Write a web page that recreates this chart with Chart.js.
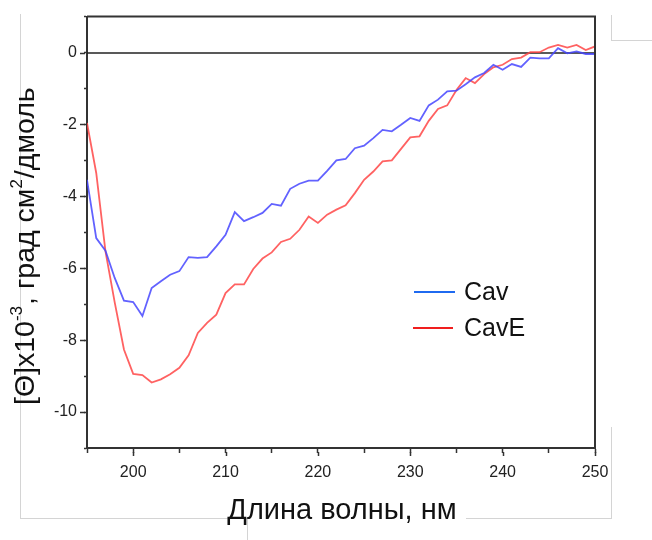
<!DOCTYPE html>
<html>
<head>
<meta charset="utf-8">
<script src="https://cdn.jsdelivr.net/npm/chart.js@4.4.1/dist/chart.umd.min.js"></script>
<style>
  html, body { margin: 0; padding: 0; background: #fff; }
  #wrap { position: relative; width: 652px; height: 540px; }
</style>
</head>
<body>
<div id="wrap"><canvas id="cd" width="652" height="540"></canvas></div>
<script>
// ── DATA ──────────────────────────────────────────────────────────────────────
const wavelengths = [
  195, 196, 197, 198, 199, 200, 201, 202, 203, 204,
  205, 206, 207, 208, 209, 210, 211, 212, 213, 214,
  215, 216, 217, 218, 219, 220, 221, 222, 223, 224,
  225, 226, 227, 228, 229, 230, 231, 232, 233, 234,
  235, 236, 237, 238, 239, 240, 241, 242, 243, 244,
  245, 246, 247, 248, 249, 250
];
const cav = [
  -3.54, -5.16, -5.51, -6.27, -6.90, -6.94, -7.33, -6.55, -6.36, -6.18,
  -6.08, -5.69, -5.71, -5.69, -5.39, -5.07, -4.44, -4.69, -4.58, -4.46,
  -4.21, -4.26, -3.79, -3.65, -3.56, -3.56, -3.29, -3.00, -2.96, -2.66,
  -2.59, -2.38, -2.15, -2.19, -2.01, -1.82, -1.90, -1.47, -1.31, -1.08,
  -1.06, -0.88, -0.69, -0.57, -0.34, -0.48, -0.32, -0.40, -0.14, -0.16,
  -0.16, 0.12, -0.02, 0.03, -0.04, -0.04
];
const cavE = [
  -1.96, -3.35, -5.53, -6.95, -8.26, -8.94, -8.97, -9.18, -9.09, -8.95,
  -8.77, -8.42, -7.80, -7.52, -7.29, -6.69, -6.45, -6.45, -6.02, -5.73,
  -5.56, -5.27, -5.18, -4.93, -4.56, -4.74, -4.51, -4.37, -4.25, -3.91,
  -3.54, -3.31, -3.03, -3.00, -2.68, -2.36, -2.33, -1.90, -1.57, -1.47,
  -1.04, -0.71, -0.85, -0.60, -0.41, -0.34, -0.18, -0.14, 0.01, 0.01,
  0.14, 0.21, 0.14, 0.21, 0.07, 0.17
];
const seriesNames = ['Cav', 'CavE'];
const xTitle = 'Длина волны, нм';
// y title pieces: [text, superscript?]
const yTitleParts = [['[Θ]x10', 0], ['-3', 1], [', град см', 0], ['2', 1], ['/дмоль', 0]];

const FONT = '"Liberation Sans", Arial, sans-serif';
const LINE_BLUE = 'rgba(70,70,255,0.85)';
const LINE_RED  = 'rgba(255,70,70,0.85)';

// ── HELPERS ───────────────────────────────────────────────────────────────────
const pts = vals => wavelengths.map((w, i) => ({ x: w, y: vals[i] }));

function hline(ctx, x1, x2, y) { ctx.beginPath(); ctx.moveTo(x1, y); ctx.lineTo(x2, y); ctx.stroke(); }
function vline(ctx, x, y1, y2) { ctx.beginPath(); ctx.moveTo(x, y1); ctx.lineTo(x, y2); ctx.stroke(); }

// ── DECORATION PLUGIN: zero line, frame, long ticks, titles, legend ───────────
const deco = {
  id: 'deco',
  beforeDatasetsDraw(chart) {
    const { ctx, chartArea: a, scales: { y } } = chart;
    ctx.save();
    ctx.strokeStyle = '#222';
    ctx.lineWidth = 1.6;
    hline(ctx, a.left, a.right, Math.round(y.getPixelForValue(0)));
    ctx.restore();
  },
  afterDraw(chart) {
    const { ctx, chartArea: a, scales: { x: xs, y: ys } } = chart;
    ctx.save();

    // frame top / right
    ctx.strokeStyle = '#333';
    ctx.lineWidth = 2;
    hline(ctx, a.left, a.right + 1, a.top);
    vline(ctx, a.right, a.top, a.bottom);

    // major ticks are longer than minor ones
    ctx.lineWidth = 1.5;
    xs.ticks.forEach(t => {
      if (t.value % 10 === 0) vline(ctx, Math.round(xs.getPixelForValue(t.value)) + 0.5, a.bottom + 4, a.bottom + 8);
    });
    ys.ticks.forEach(t => {
      if (t.value % 2 === 0) hline(ctx, a.left - 7, a.left - 2, Math.round(ys.getPixelForValue(t.value)) + 0.5);
    });

    // faint screenshot border lines
    ctx.strokeStyle = '#d4d4d4';
    ctx.lineWidth = 1;
    vline(ctx, 20.5, 14, 518.5);
    hline(ctx, 20, 247, 518.5);
    vline(ctx, 247.5, 518, 540);
    hline(ctx, 466, 612, 518.5);
    vline(ctx, 611.5, 427, 518.5);
    vline(ctx, 611.5, 15, 40.5);
    hline(ctx, 611, 652, 40.5);

    // x title
    ctx.fillStyle = '#111';
    ctx.font = '29px ' + FONT;
    ctx.textAlign = 'center';
    ctx.textBaseline = 'alphabetic';
    ctx.fillText(xTitle, 342, 519);

    // y title (rotated, with superscripts)
    ctx.translate(33.5, 405);
    ctx.rotate(-Math.PI / 2);
    ctx.textAlign = 'left';
    let x = 0;
    yTitleParts.forEach(([t, sup]) => {
      ctx.font = (sup ? '17px ' : '28.5px ') + FONT;
      ctx.fillText(t, x, sup ? -12 : 0);
      x += ctx.measureText(t).width + (sup ? 1 : 0);
    });
    ctx.setTransform(1, 0, 0, 1, 0, 0);

    // legend
    const leg = [
      { name: seriesNames[0], color: '#1f6af0', y: 292, x1: 414, x2: 455 },
      { name: seriesNames[1], color: '#f01e1e', y: 328, x1: 413, x2: 453 }
    ];
    ctx.lineWidth = 2;
    ctx.font = '25px ' + FONT;
    ctx.textBaseline = 'middle';
    leg.forEach(l => {
      ctx.strokeStyle = l.color;
      hline(ctx, l.x1, l.x2, l.y);
      ctx.fillStyle = '#111';
      ctx.fillText(l.name, 464, l.y + 1);
    });
    ctx.restore();
  }
};

// ── CHART ─────────────────────────────────────────────────────────────────────
new Chart(document.getElementById('cd'), {
  type: 'line',
  data: {
    datasets: [
      { label: seriesNames[0], data: pts(cav),  borderColor: LINE_BLUE, borderWidth: 1.8, pointRadius: 0, tension: 0 },
      { label: seriesNames[1], data: pts(cavE), borderColor: LINE_RED,  borderWidth: 1.8, pointRadius: 0, tension: 0 }
    ]
  },
  options: {
    responsive: false,
    animation: false,
    devicePixelRatio: 1,
    layout: { padding: { top: 15, right: 57, left: 0, bottom: 0 } },
    plugins: { legend: { display: false }, tooltip: { enabled: false } },
    scales: {
      x: {
        type: 'linear', min: 195, max: 250,
        afterFit: s => { s.height = 92; },
        ticks: {
          stepSize: 5, maxRotation: 0, autoSkip: false, padding: 10,
          color: '#222', font: { size: 16, family: FONT },
          callback: v => (v % 10 === 0 ? v : '')
        },
        grid: { drawOnChartArea: false, drawTicks: true, tickLength: 5, tickColor: '#333', tickWidth: 1.5 },
        border: { display: true, color: '#333', width: 2 }
      },
      y: {
        min: -11, max: 1,
        afterFit: s => { s.width = 87; },
        ticks: {
          stepSize: 1, autoSkip: false, padding: 7,
          color: '#222', font: { size: 16, family: FONT },
          callback: v => (v % 2 === 0 ? v : '')
        },
        grid: { drawOnChartArea: false, drawTicks: true, tickLength: 3, tickColor: '#333', tickWidth: 1.5 },
        border: { display: true, color: '#333', width: 2 }
      }
    }
  },
  plugins: [deco]
});
</script>
</body>
</html>
